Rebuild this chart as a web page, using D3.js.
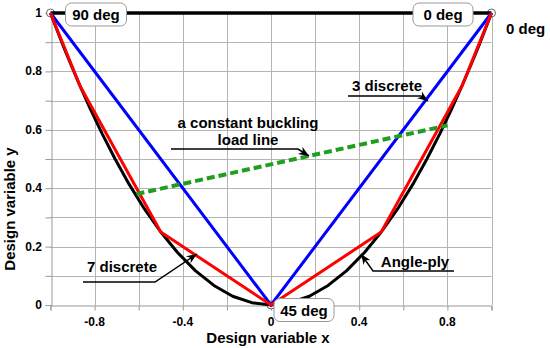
<!DOCTYPE html>
<html>
  <head>
    <meta charset="UTF-8">
    <title>Design variables</title>
    <script src="https://d3js.org/d3.v7.min.js"></script>
    <style>
      body { margin: 0; background: #fff; }
      text { font-family: "Liberation Sans", Arial, sans-serif; font-weight: bold; fill: #000; }
    </style>
  </head>
  <body>
    <svg width="550" height="348"></svg>
    <script>
      // Angle-ply curve, left half then right half
      var plyX = [-1, -0.996, -0.985, -0.966, -0.94, -0.906, -0.866, -0.819, -0.766, -0.707, -0.643, -0.574, -0.5, -0.423, -0.342, -0.259, -0.174, -0.087,
                  0, 0.087, 0.174, 0.259, 0.342, 0.423, 0.5, 0.574, 0.643, 0.707, 0.766, 0.819, 0.866, 0.906, 0.94, 0.966, 0.985, 0.996, 1];
      var plyY = [1, 0.992, 0.97, 0.933, 0.883, 0.821, 0.75, 0.671, 0.587, 0.5, 0.413, 0.329, 0.25, 0.179, 0.117, 0.067, 0.03, 0.008,
                  0, 0.008, 0.03, 0.067, 0.117, 0.179, 0.25, 0.329, 0.413, 0.5, 0.587, 0.671, 0.75, 0.821, 0.883, 0.933, 0.97, 0.992, 1];

      // 7 discrete angles
      var sevenX = [-1, -0.866, -0.5, 0, 0.5, 0.866, 1];
      var sevenY = [1, 0.75, 0.25, 0, 0.25, 0.75, 1];

      // 3 discrete angles
      var threeX = [-1, 0, 1];
      var threeY = [1, 0, 1];

      // top edge
      var topX = [-1, 1];
      var topY = [1, 1];

      // constant buckling load line
      var loadX = [-0.61, 0.8];
      var loadY = [0.38, 0.615];

      var xTicks = [-0.8, -0.4, 0, 0.4, 0.8];
      var yTicks = [0, 0.2, 0.4, 0.6, 0.8, 1];

      var svg = d3.select("svg");

      var x = d3.scaleLinear().domain([-1, 1]).range([50.5, 491.5]);
      var y = d3.scaleLinear().domain([0, 1]).range([305, 13]);

      function pts(xs, ys) { return xs.map(function(v, i) { return [v, ys[i]]; }); }
      var line = d3.line().x(function(d) { return x(d[0]); }).y(function(d) { return y(d[1]); });

      // grid
      var grid = svg.append("g").attr("stroke", "#b4b4b4").attr("stroke-width", 1);
      grid.selectAll(".v").data(d3.range(-8, 11, 2).map(function(d) { return d / 10; }))
        .enter().append("line")
          .attr("x1", function(d) { return Math.round(x(d)) + 0.5; })
          .attr("x2", function(d) { return Math.round(x(d)) + 0.5; })
          .attr("y1", y(1)).attr("y2", y(0));
      grid.selectAll(".h").data(d3.range(1, 11).map(function(d) { return d / 10; }))
        .enter().append("line")
          .attr("x1", x(-1)).attr("x2", x(1))
          .attr("y1", function(d) { return Math.round(y(d)) + 0.5; })
          .attr("y2", function(d) { return Math.round(y(d)) + 0.5; });

      // axes
      var xAxis = svg.append("g").attr("transform", "translate(0," + (y(0) + 0.5) + ")")
          .call(d3.axisBottom(x).tickValues(d3.range(-10, 11, 2).map(function(d) { return d / 10; })).tickSize(5).tickFormat(""));
      var yAxis = svg.append("g").attr("transform", "translate(" + (Math.round(x(-1)) + 0.5) + ",0)")
          .call(d3.axisLeft(y).tickValues(d3.range(0, 11).map(function(d) { return d / 10; })).tickSize(6).tickFormat(""));
      [xAxis, yAxis].forEach(function(a) {
        a.select(".domain").attr("stroke", "#999");
        a.selectAll(".tick line").attr("stroke", "#999");
      });

      svg.append("g").selectAll("text").data(xTicks).enter().append("text")
          .attr("x", function(d) { return x(d); }).attr("y", 326)
          .attr("text-anchor", "middle").attr("font-size", 12)
          .text(function(d) { return d; });
      svg.append("g").selectAll("text").data(yTicks).enter().append("text")
          .attr("x", 42).attr("y", function(d) { return y(d) + 4; })
          .attr("text-anchor", "end").attr("font-size", 12)
          .text(function(d) { return d; });

      svg.append("text").attr("x", 268).attr("y", 343).attr("text-anchor", "middle")
          .attr("font-size", 15).text("Design variable x");
      svg.append("text").attr("transform", "translate(15,209) rotate(-90)").attr("text-anchor", "middle")
          .attr("font-size", 15).text("Design variable y");

      // corner markers
      svg.append("g").selectAll("circle").data(pts(threeX, threeY)).enter().append("circle")
          .attr("cx", function(d) { return x(d[0]); }).attr("cy", function(d) { return y(d[1]); })
          .attr("r", 4).attr("fill", "#fff").attr("stroke", "#666").attr("stroke-width", 1);

      // series
      svg.append("path").datum(pts(topX, topY)).attr("d", line)
          .attr("fill", "none").attr("stroke", "#000").attr("stroke-width", 3.5);
      svg.append("path").datum(pts(plyX, plyY)).attr("d", line)
          .attr("fill", "none").attr("stroke", "#000").attr("stroke-width", 3).attr("stroke-linejoin", "round");
      svg.append("path").datum(pts(threeX, threeY)).attr("d", line)
          .attr("fill", "none").attr("stroke", "#0000ff").attr("stroke-width", 3);
      svg.append("path").datum(pts(sevenX, sevenY)).attr("d", line)
          .attr("fill", "none").attr("stroke", "#ff0000").attr("stroke-width", 3);
      svg.append("path").datum(pts(loadX, loadY)).attr("d", line)
          .attr("fill", "none").attr("stroke", "#1f9e1f").attr("stroke-width", 4).attr("stroke-dasharray", "8,4");

      // labelled boxes
      function box(cx, cy, w, label) {
        svg.append("rect").attr("x", cx - w / 2).attr("y", cy - 11.5).attr("width", w).attr("height", 23)
            .attr("rx", 6).attr("fill", "#fff").attr("stroke", "#999").attr("stroke-width", 1);
        svg.append("text").attr("x", cx).attr("y", cy + 5.5).attr("text-anchor", "middle")
            .attr("font-size", 15).text(label);
      }
      box(96, 14.5, 61, "90 deg");
      box(443, 14.5, 60, "0 deg");
      box(304, 310, 60, "45 deg");
      svg.append("text").attr("x", 506).attr("y", 34).attr("font-size", 15).text("0 deg");

      // leaders with arrow heads
      svg.append("defs").append("marker").attr("id", "arr")
          .attr("viewBox", "0 0 10 10").attr("refX", 10).attr("refY", 5)
          .attr("markerWidth", 7).attr("markerHeight", 7).attr("orient", "auto")
          .append("path").attr("d", "M0,1L10,5L0,9L3,5Z").attr("fill", "#000");
      var leader = d3.line();
      function note(p, lines, tx, ty) {
        svg.append("path").attr("d", leader(p)).attr("fill", "none")
            .attr("stroke", "#000").attr("stroke-width", 1.5).attr("marker-end", "url(#arr)");
        lines.forEach(function(t, i) {
          svg.append("text").attr("x", tx).attr("y", ty + i * 17).attr("text-anchor", "middle")
              .attr("font-size", 15).text(t);
        });
      }
      note([[348, 96], [421, 96], [428, 101]], ["3 discrete"], 387, 91);
      note([[171, 149], [298, 149], [309, 156]], ["a constant buckling", "load line"], 248, 128);
      note([[83, 282], [155, 282], [197, 254]], ["7 discrete"], 122, 272);
      note([[454, 271], [373, 271], [361, 254]], ["Angle-ply"], 415, 267);
    </script>
  </body>
</html>
